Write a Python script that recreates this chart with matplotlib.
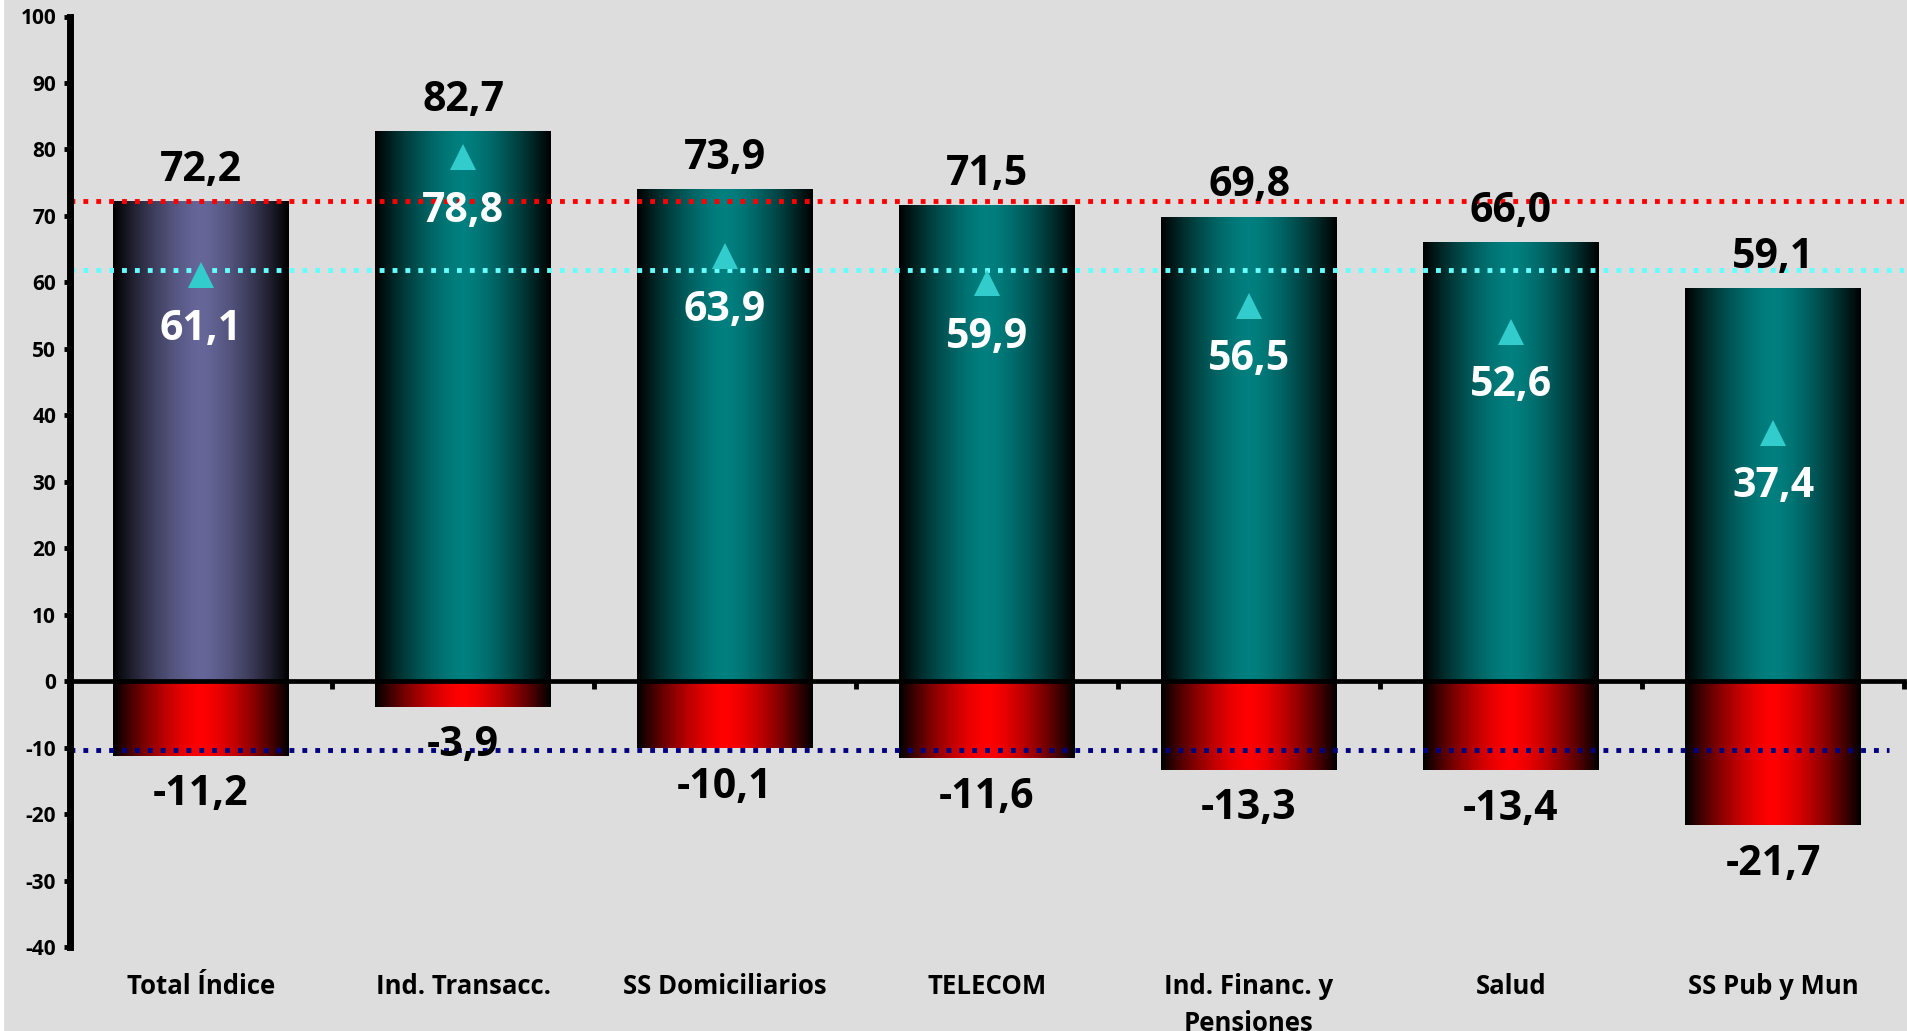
#!/usr/bin/env python3
"""Bar chart: positive / negative balance per sector with reference lines."""
import numpy as np
import matplotlib
matplotlib.use('Agg')
import matplotlib.pyplot as plt
from matplotlib.colors import to_rgb
from matplotlib.patches import Rectangle

categories = ['Total Índice', 'Ind. Transacc.', 'SS Domiciliarios', 'TELECOM',
              'Ind. Financ. y\nPensiones', 'Salud', 'SS Pub y Mun']
positive = [72.2, 82.7, 73.9, 71.5, 69.8, 66.0, 59.1]
negative = [-11.2, -3.9, -10.1, -11.6, -13.3, -13.4, -21.7]
balance = [61.1, 78.8, 63.9, 59.9, 56.5, 52.6, 37.4]
ref_total_pos = 72.2
ref_balance = 61.9
ref_total_neg = -10.4

plt.rcParams['font.family'] = ['Open Sans', 'DejaVu Sans']
plt.rcParams['font.weight'] = 'bold'
plt.rcParams['axes.unicode_minus'] = False

BG = '#DDDDDD'


def fmt(v):
    return f'{v:.1f}'.replace('.', ',')


def gradient(color, n=256):
    t = np.linspace(0, 1, n)
    f = 1 - np.abs(2 * t - 1) ** 1.5
    rgb = np.array(to_rgb(color))
    return f[None, :, None] * rgb[None, None, :]


def fill_bars(ax, bars, colors):
    for b, c in zip(bars, colors):
        x0, w, h = b.get_x(), b.get_width(), b.get_height()
        ax.imshow(gradient(c), extent=(x0, x0 + w, min(0, h), max(0, h)),
                  aspect='auto', interpolation='bilinear', zorder=1)


def main():
    fig = plt.figure(figsize=(19.07, 10.31), dpi=100)
    fig.patch.set_facecolor(BG)
    fig.patches.append(Rectangle((0, 0), 3 / 1907, 1, transform=fig.transFigure,
                                 color='white', zorder=0))
    ax = fig.add_axes([70 / 1907, (1031 - 947) / 1031,
                       (1904 - 70) / 1907, (947 - 16.5) / 1031])
    ax.set_facecolor(BG)

    x = np.arange(len(categories))
    width = 0.67
    pos_bars = ax.bar(x, positive, width=width, color='none', zorder=1)
    neg_bars = ax.bar(x, negative, width=width, color='none', zorder=1)
    fill_bars(ax, pos_bars, ['#666699'] + ['#008080'] * (len(x) - 1))
    fill_bars(ax, neg_bars, ['#FF0000'] * len(x))

    ax.axhline(ref_total_pos, color='#FF0000', lw=3.5, ls=':', zorder=3)
    ax.axhline(ref_balance, color='#66FFFF', lw=3.5, ls=':', zorder=3)
    ax.axhline(ref_total_neg, xmax=0.992, color='#000080', lw=3.5, ls=':', zorder=3)

    ax.plot(x, balance, ls='none', marker='^', ms=19, color='#33CCCC',
            markeredgewidth=0, zorder=4)

    for i in x:
        ax.annotate(fmt(positive[i]), (i, positive[i]), xytext=(0, 22.5),
                    textcoords='offset points', ha='center', va='center',
                    fontsize=29.5, color='black', zorder=5)
        ax.annotate(fmt(balance[i]), (i, balance[i]), xytext=(0, -39),
                    textcoords='offset points', ha='center', va='center',
                    fontsize=29.5, color='white', zorder=5)
        ax.annotate(fmt(negative[i]), (i, negative[i]), xytext=(0, -28),
                    textcoords='offset points', ha='center', va='center',
                    fontsize=29.5, color='black', zorder=5)
        ax.annotate(categories[i], (i, -40), xytext=(0, -19),
                    textcoords='offset points', ha='center', va='top',
                    fontsize=18.5, color='black', linespacing=1.45,
                    annotation_clip=False)

    ax.set_xlim(-0.5, 6.5)
    ax.set_ylim(-40, 100)
    ax.set_yticks(np.arange(-40, 101, 10))
    ax.set_xticks(np.arange(0.5, 7, 1))
    ax.set_xticklabels([])

    for side in ['top', 'right']:
        ax.spines[side].set_visible(False)
    ax.spines['left'].set_linewidth(5)
    ax.spines['bottom'].set_position(('data', 0))
    ax.spines['bottom'].set_linewidth(3.4)
    ax.spines['bottom'].set_zorder(3.5)
    ax.spines['left'].set_zorder(3.5)

    ax.tick_params(axis='y', direction='out', length=4, width=3.5, pad=6,
                   labelsize=15)
    ax.tick_params(axis='x', direction='out', length=6, width=3.5)

    fig.savefig('out.png', dpi=100, facecolor=fig.get_facecolor())
    plt.close(fig)


if __name__ == '__main__':
    main()
